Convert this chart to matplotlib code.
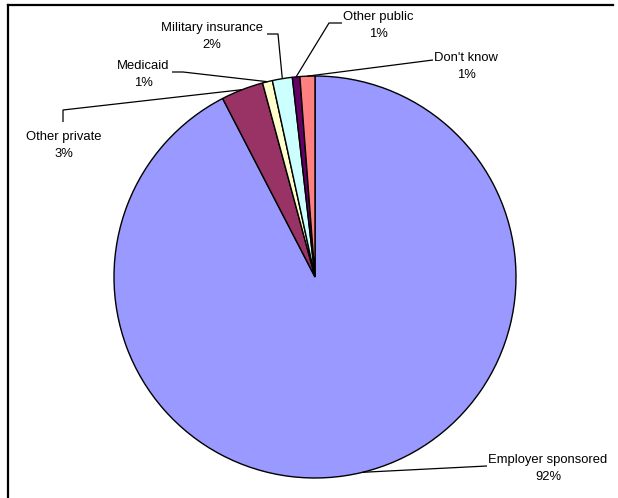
import numpy as np
import matplotlib
matplotlib.use("Agg")
import matplotlib.pyplot as plt

# --- data ---
categories = ["Employer sponsored", "Other private", "Medicaid",
              "Military insurance", "Other public", "Don't know"]
shares = [92.4, 3.4, 0.8, 1.6, 0.6, 1.2]
pct_labels = ["92%", "3%", "1%", "2%", "1%", "1%"]
colors = ["#9999FF", "#993366", "#FFFFCC", "#CCFFFF", "#660066", "#FF8080"]

W, H = 618, 498
CX, CY, R = 315, 277, 201  # pie centre / radius in pixels (y down)

# label centre (x, y of first line) and leader-line path beyond the anchor (pixels, y down)
label_pos = [(548, 460), (64, 137), (143, 66), (212, 28), (378, 17), (466, 58)]
leader_path = [
    [(487, 466)],
    [(63, 110), (63, 122)],
    [(183, 72), (172, 72)],
    [(278, 34), (267, 34)],
    [(329, 23), (342, 23)],
    [(433, 60)],
]

plt.rcParams["font.family"] = ["Liberation Sans", "DejaVu Sans"]

fig = plt.figure(figsize=(W / 100, H / 100), dpi=100)
ax = fig.add_axes([0, 0, 1, 1])


def fy(y):
    return H - y


ax.pie(shares, colors=colors, startangle=90, counterclock=False,
       center=(CX, fy(CY)), radius=R,
       wedgeprops=dict(edgecolor="black", linewidth=1.0))

# leader lines anchored at the middle of each slice's arc
cum = np.cumsum([0] + shares[:-1])
for i, name in enumerate(categories):
    mid = (cum[i] + shares[i] / 2) / 100 * 2 * np.pi
    ax_x = CX + R * np.sin(mid)
    ax_y = CY - R * np.cos(mid)
    pts = [(ax_x, ax_y)] + leader_path[i]
    ax.plot([p[0] for p in pts], [fy(p[1]) for p in pts],
            color="black", linewidth=0.9, solid_capstyle="butt")
    lx, ly = label_pos[i]
    ax.text(lx, fy(ly), name, ha="center", va="center", fontsize=9.4)
    ax.text(lx, fy(ly + 16.5), pct_labels[i], ha="center", va="center",
            fontsize=9.4)

# chart frame (left and top edges visible)
ax.plot([8, 8], [0, fy(5)], color="black", linewidth=1.6)
ax.plot([8, 613], [fy(5), fy(5)], color="black", linewidth=1.6)

ax.set_xlim(0, W)
ax.set_ylim(0, H)
ax.set_aspect("equal")
ax.axis("off")

fig.savefig("out.png", dpi=100)
